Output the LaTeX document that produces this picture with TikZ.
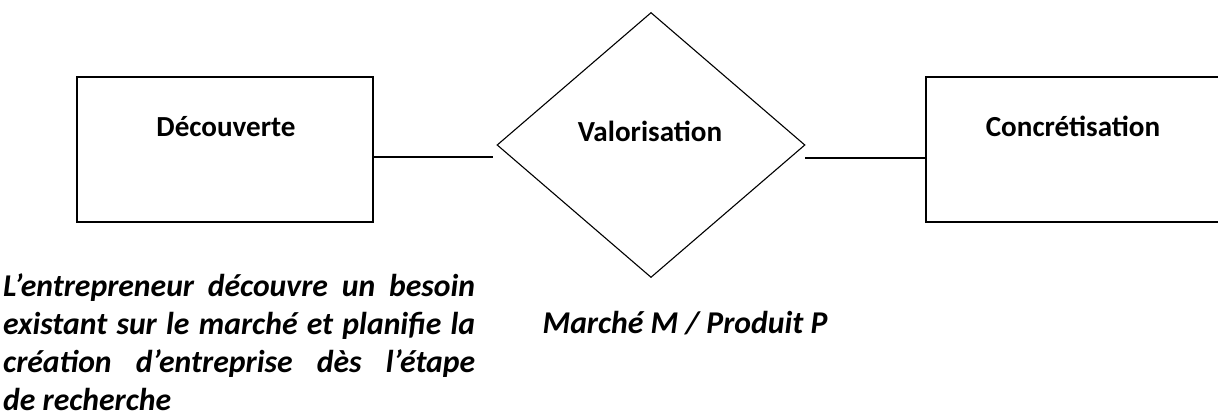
\documentclass[tikz,border=0pt]{standalone}
\usepackage{fontspec}
\setmainfont{Carlito}
\usetikzlibrary{shapes.geometric}
\begin{document}
\begin{tikzpicture}[x=1pt,y=1pt,
  box/.style={draw,line width=1.3pt,minimum width=296pt,minimum height=145pt,inner sep=0pt},
  lab/.style={font=\fontsize{29.1}{35}\selectfont\bfseries,anchor=base,inner sep=0pt},
  note/.style={font=\fontsize{31.7}{38}\selectfont\bfseries\itshape,inner sep=0pt},
  conn/.style={line width=1.1pt}]
\useasboundingbox (0,0) rectangle (1218,414);
\clip (0,0) rectangle (1218,414);
\node[box] (dec) at (225,264.5) {};
\node[lab] (decl) at (226,277) {Découverte};
\node[draw,shape=diamond,line width=1.1pt,minimum width=308pt,minimum height=265pt,inner sep=0pt] (val) at (651,269) {};
\node[lab] (vall) at (650,272) {Valorisation};
\node[box,minimum width=330pt] (con) at (1091,264.5) {};
\node[lab] (conl) at (1073,277) {Concrétisation};
\coordinate (c1) at (493,257);
\coordinate (c2) at (805,256);
\draw[conn] (dec.east |- c1) -- (c1);
\draw[conn] (c2) -- (con.west |- c2);
\node[note,text width=472pt,align=justify,anchor=north west] (txt) at (3,143)
 {\fontsize{31.7}{38}\selectfont\vrule height 25pt width 0pt L’entrepreneur découvre un besoin\linebreak existant sur le marché et planifie la\linebreak création d’entreprise dès l’étape\linebreak de recherche\par};
\node[note,anchor=base] (mp) at (685,80) {Marché M / Produit P};
\end{tikzpicture}
\end{document}
